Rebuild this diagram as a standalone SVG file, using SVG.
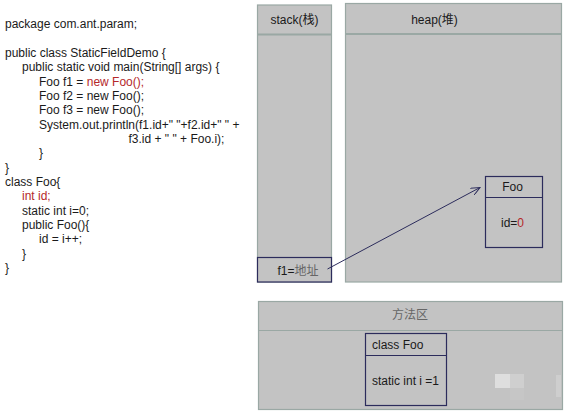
<svg xmlns="http://www.w3.org/2000/svg" width="566" height="414" viewBox="0 0 566 414">
<style>
.code{font-family:"Liberation Sans",Arial,sans-serif;font-size:12px;fill:#1a1a1a}
.red{fill:#b5282a}
.area{fill:#c3c3c3;stroke:#9aa8a4;stroke-width:1.2}
.sep{stroke:#9aa8a4;stroke-width:2}
.box{fill:#c3c3c3;stroke:#2c2c5c;stroke-width:1.2}
.lbl{font-family:"Liberation Sans",Arial,"Noto Sans CJK SC",sans-serif;font-size:12px;fill:#1a1a1a}
.gray{fill:#666}
.conn{stroke:#2c2c5c;stroke-width:1;fill:none}
</style>
<defs>
<marker id="ah" markerWidth="10" markerHeight="8" refX="9" refY="4" orient="auto" markerUnits="userSpaceOnUse">
<path d="M0,0 L9,4 L0,8" fill="none" stroke="#2c2c5c" stroke-width="1"/>
</marker>
</defs>
<rect width="566" height="414" fill="#ffffff"/>
<g id="code">
<text class="code" x="5" y="28">package com.ant.param;</text>
<text class="code" x="5" y="57">public class StaticFieldDemo {</text>
<text class="code" x="22" y="71.3">public static void main(String[] args) {</text>
<text class="code" x="39" y="85.7">Foo f1 = <tspan class="red">new Foo();</tspan></text>
<text class="code" x="39" y="100">Foo f2 = new Foo();</text>
<text class="code" x="39" y="114.3">Foo f3 = new Foo();</text>
<text class="code" x="39" y="128.7">System.out.println(f1.id+" "+f2.id+" " +</text>
<text class="code" x="128.5" y="143">f3.id + " " + Foo.i);</text>
<text class="code" x="39" y="157.3">}</text>
<text class="code" x="5" y="171.7">}</text>
<text class="code" x="5" y="186">class Foo{</text>
<text class="code red" x="22" y="200.3">int id;</text>
<text class="code" x="22" y="214.7">static int i=0;</text>
<text class="code" x="22" y="229">public Foo(){</text>
<text class="code" x="39" y="243.3">id = i++;</text>
<text class="code" x="22" y="257.7">}</text>
<text class="code" x="5" y="272">}</text>
</g>
<g id="stack">
<rect class="area" x="257.5" y="5" width="74" height="277"/>
<line class="sep" x1="257.5" y1="34.5" x2="331.5" y2="34.5"/>
<text class="lbl" x="294.5" y="24" text-anchor="middle">stack(栈)</text>
</g>
<g id="heap">
<rect class="area" x="345.5" y="3.5" width="216" height="278.5"/>
<line class="sep" x1="345.5" y1="34" x2="561.5" y2="34"/>
<text class="lbl" x="434.5" y="24" text-anchor="middle">heap(堆)</text>
</g>
<g id="f1">
<rect class="box" x="257.5" y="257.5" width="74" height="24.5"/>
<text class="lbl" x="298" y="274.5" text-anchor="middle">f1=<tspan class="gray">地址</tspan></text>
</g>
<g id="foo">
<rect class="box" x="485.5" y="176.5" width="57" height="71"/>
<line class="conn" x1="485.5" y1="197.5" x2="542.5" y2="197.5"/>
<text class="lbl" x="512.5" y="191" text-anchor="middle">Foo</text>
<text class="lbl" x="512.5" y="227" text-anchor="middle">id=<tspan class="red">0</tspan></text>
</g>
<g id="method-area">
<rect class="area" x="258.5" y="301.5" width="304" height="108"/>
<line class="area" x1="258.5" y1="330.5" x2="562.5" y2="330.5"/>
<text class="lbl gray" x="410" y="318.5" text-anchor="middle">方法区</text>
</g>
<g id="class-foo">
<rect class="box" x="365.5" y="333.5" width="81" height="72"/>
<line class="conn" x1="365.5" y1="355.5" x2="446.5" y2="355.5"/>
<text class="lbl" x="372" y="348.5">class Foo</text>
<text class="lbl" x="372" y="384.5">static int i =1</text>
</g>
<g id="connectors">
<line class="conn" x1="327.5" y1="269" x2="480" y2="187.5" marker-end="url(#ah)"/>
</g>
<g id="watermark" opacity="0.6">
<rect x="495" y="374" width="15" height="14" fill="#f0f0f0"/>
<rect x="510" y="374" width="14" height="14" fill="#d8d8d8"/>
<rect x="510" y="388" width="14" height="12" fill="#c9c9c9"/>
<rect x="556" y="375" width="5" height="22" fill="#d6d6d6"/>
</g>
</svg>
